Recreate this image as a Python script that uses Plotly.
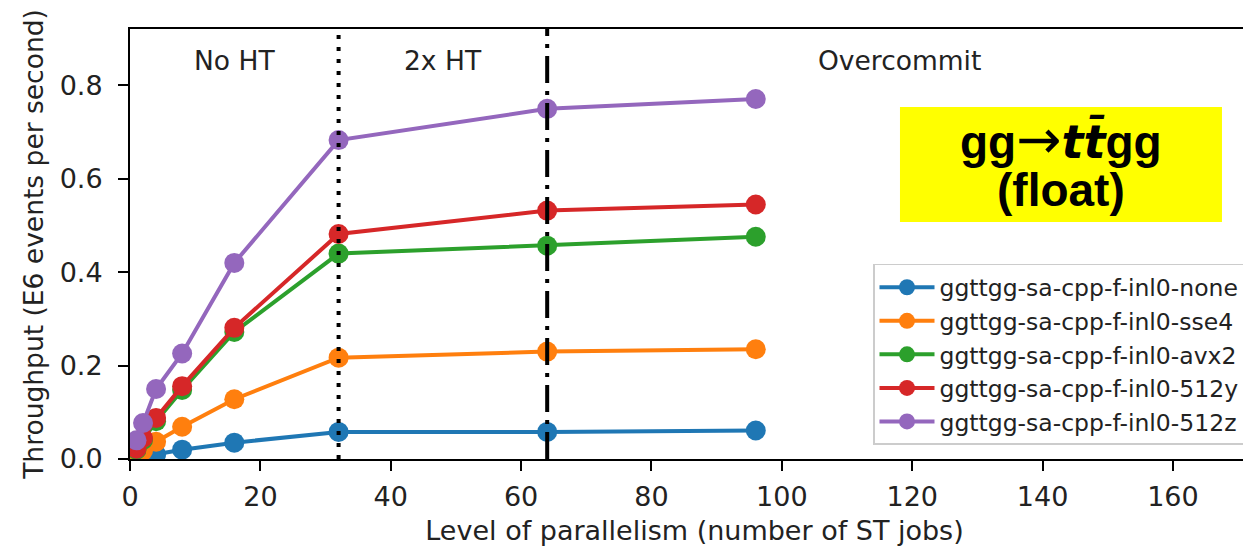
import plotly.graph_objects as go

# ---- data ----
jobs = [1, 2, 4, 8, 16, 32, 64, 96]
series_names = [
    "ggttgg-sa-cpp-f-inl0-none",
    "ggttgg-sa-cpp-f-inl0-sse4",
    "ggttgg-sa-cpp-f-inl0-avx2",
    "ggttgg-sa-cpp-f-inl0-512y",
    "ggttgg-sa-cpp-f-inl0-512z",
]
tp_none = [0.003, 0.005, 0.010, 0.020, 0.035, 0.058, 0.058, 0.061]
tp_sse4 = [0.008, 0.018, 0.037, 0.069, 0.128, 0.217, 0.230, 0.235]
tp_avx2 = [0.020, 0.041, 0.081, 0.148, 0.272, 0.440, 0.457, 0.476]
tp_512y = [0.022, 0.045, 0.088, 0.156, 0.281, 0.482, 0.532, 0.545]
tp_512z = [0.040, 0.077, 0.150, 0.226, 0.420, 0.683, 0.750, 0.771]
colors = ["#1f77b4", "#ff7f0e", "#2ca02c", "#d62728", "#9467bd"]

region_labels = ["No HT", "2x HT", "Overcommit"]
region_x = [16, 48, 118]
vline_dotted = 32
vline_dashdot = 64

x_ticks = [0, 20, 40, 60, 80, 100, 120, 140, 160]
y_ticks = [0.0, 0.2, 0.4, 0.6, 0.8]

FONT = "DejaVu Sans"
BASE = 27

fig = go.Figure()
for i, (name, vals, col) in enumerate(zip(series_names, [tp_none, tp_sse4, tp_avx2, tp_512y, tp_512z], colors)):
    fig.add_trace(go.Scatter(
        x=jobs, y=vals, name=name, mode="lines+markers", legendgroup=f"g{i}",
        line=dict(color=col, width=4),
        marker=dict(color=col, size=20),
    ))

# vertical reference lines (drawn above data)
fig.add_shape(type="line", xref="x", yref="paper", x0=vline_dotted, x1=vline_dotted, y0=0, y1=1,
              line=dict(color="black", width=4, dash="4px,8px"), layer="above")
fig.add_shape(type="line", xref="x", yref="paper", x0=vline_dashdot, x1=vline_dashdot, y0=0, y1=1,
              line=dict(color="black", width=4, dash="27px,8px,4px,8px"), layer="above")

for lab, xv in zip(region_labels, region_x):
    fig.add_annotation(x=xv, y=0.854, xref="x", yref="y", text=lab, showarrow=False,
                       font=dict(family=FONT, size=26.5, color="#222"), xanchor="center", yanchor="middle")

# yellow title box
fig.add_shape(type="rect", xref="paper", yref="paper", x0=0.6820, x1=0.9672, y0=0.5512, y1=0.8186,
              fillcolor="#ffff00", line=dict(width=0), layer="above")
fig.add_annotation(x=0.8246, y=0.7419, xref="paper", yref="paper", showarrow=False,
                   xanchor="center", yanchor="middle",
                   text=("<b>gg<span style='font-family:DejaVu Sans;font-weight:normal;font-size:54px'>→</span>"
                         "<span style='font-family:DejaVu Sans'><i>tt̄</i></span>gg</b>"),
                   font=dict(family="Liberation Sans", size=46, color="black"))
fig.add_annotation(x=0.8246, y=0.6256, xref="paper", yref="paper", showarrow=False,
                   xanchor="center", yanchor="middle",
                   text="<b>(float)</b>",
                   font=dict(family="Liberation Sans", size=46, color="black"))

# note: the page body adds an 8px offset, margins compensate for it
fig.update_layout(
    width=1251, height=546,
    margin=dict(l=122, r=0, t=21, b=95, autoexpand=False),
    plot_bgcolor="white", paper_bgcolor="white",
    font=dict(family=FONT, size=BASE, color="#222"),
    showlegend=True,
    legend=dict(
        x=0.9876, y=0.0326, xanchor="right", yanchor="bottom",
        bgcolor="white", bordercolor="#cccccc", borderwidth=1.5,
        font=dict(family=FONT, size=23.5, color="#222"),
        itemwidth=55, tracegroupgap=0,
    ),
)
fig.update_xaxes(
    range=[0, 173.2], tickvals=x_ticks, ticks="outside", ticklen=10, tickwidth=2, tickcolor="black",
    showline=True, linecolor="black", linewidth=2, mirror=True, showgrid=False, zeroline=False,
    automargin=False, ticklabelstandoff=3,
    title=dict(text="Level of parallelism (number of ST jobs)", standoff=10,
               font=dict(family=FONT, size=BASE)),
    tickfont=dict(family=FONT, size=BASE),
)
fig.update_yaxes(
    range=[0, 0.921], tickvals=y_ticks, tickformat=".1f", ticks="outside", ticklen=10, tickwidth=2,
    tickcolor="black", showline=True, linecolor="black", linewidth=2, mirror=False,
    showgrid=False, zeroline=False, automargin=False, ticklabelstandoff=10,
    title=dict(text="Throughput (E6 events per second)", standoff=8,
               font=dict(family=FONT, size=26.5)),
    tickfont=dict(family=FONT, size=BASE),
)

fig.write_html("out.html")
